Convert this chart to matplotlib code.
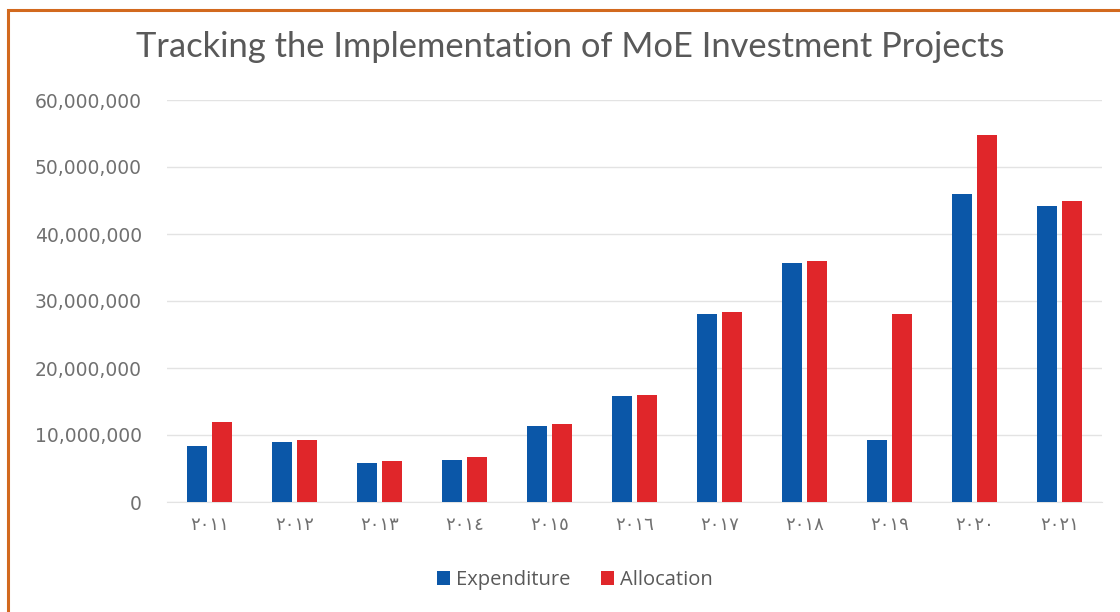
import matplotlib
matplotlib.use("Agg")
import matplotlib.pyplot as plt
from matplotlib.patches import Rectangle
from matplotlib.ticker import FuncFormatter
import numpy as np

years = ["٢٠١١", "٢٠١٢", "٢٠١٣", "٢٠١٤", "٢٠١٥", "٢٠١٦", "٢٠١٧", "٢٠١٨", "٢٠١٩", "٢٠٢٠", "٢٠٢١"]
expenditure = [8.4e6, 9.0e6, 5.8e6, 6.3e6, 11.3e6, 15.8e6, 28.1e6, 35.7e6, 9.3e6, 45.9e6, 44.2e6]
allocation = [11.9e6, 9.3e6, 6.1e6, 6.7e6, 11.6e6, 15.9e6, 28.4e6, 36.0e6, 28.1e6, 54.8e6, 44.9e6]
series_names = ["Expenditure", "Allocation"]
yticks = [0, 10e6, 20e6, 30e6, 40e6, 50e6, 60e6]

plt.rcParams['font.family'] = ['Open Sans', 'DejaVu Sans']

fig = plt.figure(figsize=(11.2, 6.12), dpi=100)
fig.patches.append(Rectangle((8/1120, -0.1), 1.2, 1 - 10/612 + 0.1, transform=fig.transFigure,
                             fill=False, edgecolor='#D2691E', linewidth=2.2, zorder=10))

ax = fig.add_axes([167/1120, 1 - 502/612, (1102 - 167)/1120, (502 - 100)/612])
x = np.arange(len(years))
w = 0.245
off = 0.147
blue = '#0B57A8'
red = '#E0262A'
ax.bar(x - off, expenditure, width=w, color=blue, label=series_names[0], zorder=3)
ax.bar(x + off, allocation, width=w, color=red, label=series_names[1], zorder=3)

ax.set_xlim(-0.5, len(years) - 0.5)
ax.set_ylim(0, 60e6)
ax.set_yticks(yticks)
ax.yaxis.set_major_formatter(FuncFormatter(lambda v, p: f"{int(v):,}"))
ax.set_xticks(x)
ax.set_xticklabels(years, family=['DejaVu Sans'], fontsize=13)
for lab in ax.get_yticklabels():
    lab.set_family(['DejaVu Sans'])
    lab.set_fontsize(13.5)
ax.grid(axis='y', color='#E3E3E3', linewidth=1, zorder=0)
for s in ['top', 'right', 'left']:
    ax.spines[s].set_visible(False)
ax.spines['bottom'].set_color('#E3E3E3')
ax.tick_params(axis='both', length=0, colors='#707070')
ax.tick_params(axis='x', pad=10)
ax.tick_params(axis='y', pad=18)

fig.text(570/1120, 1 - 47/612, "Tracking the Implementation of MoE Investment Projects",
         ha='center', va='center', fontsize=24.8, color='#595959', family=['Lato', 'DejaVu Sans'])

fig.legend(loc='center', bbox_to_anchor=(575/1120, 1 - 580/612), ncol=2, frameon=False,
           fontsize=14.5, handlelength=0.65, handleheight=0.65, handletextpad=0.3, columnspacing=1.5,
           labelcolor='#595959')

fig.savefig("out.png", dpi=100)
